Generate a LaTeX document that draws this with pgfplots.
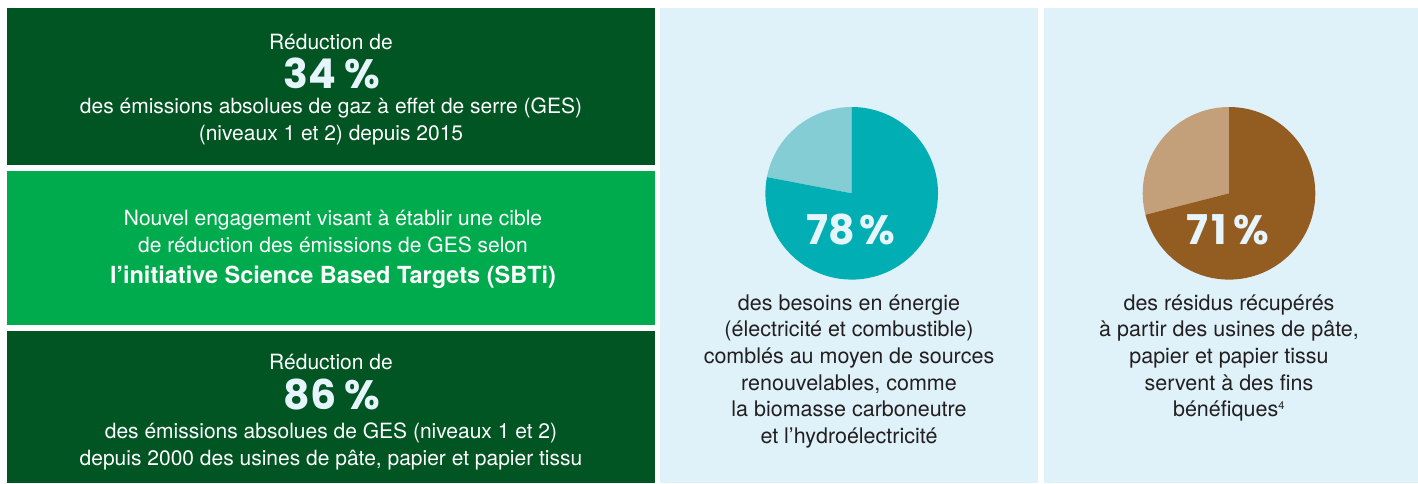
\documentclass[border=0pt]{standalone}
\usepackage{pgfplots}
\usepackage{pgfplotstable}
\pgfplotsset{compat=1.18}
\usepackage{fontspec}
\setmainfont{TeX Gyre Heros}
\newfontfamily\numfont{Poppins}
\definecolor{darkgreen}{HTML}{005523}
\definecolor{brightgreen}{HTML}{00AB4E}
\definecolor{panelblue}{HTML}{DFF2FA}
\definecolor{tealdark}{HTML}{00AEB3}
\definecolor{teallight}{HTML}{84CDD4}
\definecolor{browndark}{HTML}{935D21}
\definecolor{brownlight}{HTML}{C4A07A}
\definecolor{numwhite}{HTML}{E6F5FB}
\definecolor{captiongray}{HTML}{231F20}

\pgfplotstableread{
slice share
main 78
rest 22
}\pieEnergy
\pgfplotstableread{
slice share
main 71
rest 29
}\pieResidue

\tikzset{bignum/.style={text=numwhite, font=\numfont\bfseries\fontsize{41}{42}\selectfont, anchor=base, inner sep=0pt, text height=29pt, text depth=0pt}}

\begin{document}
\begin{tikzpicture}
\begin{axis}[hide axis, scale only axis, width=1418pt, height=483pt,
  xmin=0, xmax=1418, ymin=0, ymax=483, y dir=reverse, clip=false]
\path (axis cs:0,0) rectangle (axis cs:1418,483);
% boxes
\fill[darkgreen] (axis cs:7,8) rectangle (axis cs:655,165);
\fill[brightgreen] (axis cs:7,171) rectangle (axis cs:655,325);
\fill[darkgreen] (axis cs:7,331) rectangle (axis cs:655,483);
\fill[panelblue] (axis cs:660,8) rectangle (axis cs:1038,483);
\fill[panelblue] (axis cs:1044,8) rectangle (axis cs:1418,483);

% box 1
\node[text=white, font=\fontsize{21}{27}\selectfont] at (axis cs:331,42) {Réduction de};
\node[bignum] at (axis cs:332,88) {34\hspace{0.19em}\%};
\node[text=white, font=\fontsize{21}{27}\selectfont, align=center] at (axis cs:331,121)
  {des émissions absolues de gaz à effet de serre (GES)\\(niveaux 1 et 2) depuis 2015};

% box 2
\node[text=white, font=\fontsize{21}{27}\selectfont, align=center] at (axis cs:333,232)
  {Nouvel engagement visant à établir une cible\\de réduction des émissions de GES selon};
\node[text=white, font=\bfseries\fontsize{23.5}{27}\selectfont] at (axis cs:333,277)
  {l’initiative Science Based Targets (SBTi)};

% box 3
\node[text=white, font=\fontsize{21}{27}\selectfont] at (axis cs:331,362) {Réduction de};
\node[bignum] at (axis cs:332,409) {86\hspace{0.19em}\%};
\node[text=white, font=\fontsize{21}{27}\selectfont, align=center] at (axis cs:331,446)
  {des émissions absolues de GES (niveaux 1 et 2)\\depuis 2000 des usines de pâte, papier et papier tissu};

% pie 1
\pgfplotstablegetelem{0}{share}\of\pieEnergy \let\shareA\pgfplotsretval
\fill[teallight] (axis cs:851.7,193.3) -- ++(90:86.3pt) arc[start angle=90, end angle={90+3.6*(100-\shareA)}, radius=86.3pt] -- cycle;
\fill[tealdark] (axis cs:851.7,193.3) -- ++(90:86.3pt) arc[start angle=90, end angle={90-3.6*\shareA}, radius=86.3pt] -- cycle;
\node[bignum] at (axis cs:851,244) {\shareA\hspace{0.12em}\%};
\node[text=captiongray, font=\fontsize{21.5}{26.6}\selectfont, align=center, anchor=north] at (axis cs:849,291)
  {des besoins en énergie\\(électricité et combustible)\\comblés au moyen de sources\\renouvelables, comme\\la biomasse carboneutre\\et l’hydroélectricité};

% pie 2
\pgfplotstablegetelem{0}{share}\of\pieResidue \let\shareB\pgfplotsretval
\fill[brownlight] (axis cs:1229,193.3) -- ++(90:86.3pt) arc[start angle=90, end angle={90+3.6*(100-\shareB)}, radius=86.3pt] -- cycle;
\fill[browndark] (axis cs:1229,193.3) -- ++(90:86.3pt) arc[start angle=90, end angle={90-3.6*\shareB}, radius=86.3pt] -- cycle;
\node[bignum] at (axis cs:1228,244) {7\hspace{0.06em}1\hspace{0.17em}\%};
\node[text=captiongray, font=\fontsize{21.5}{26.6}\selectfont, align=center, anchor=north] at (axis cs:1229,291)
  {des résidus récupérés\\à partir des usines de pâte,\\papier et papier tissu\\servent à des fins\\bénéfiques\textsuperscript{\fontsize{11}{11}\selectfont 4}};
\end{axis}
\end{tikzpicture}
\end{document}
